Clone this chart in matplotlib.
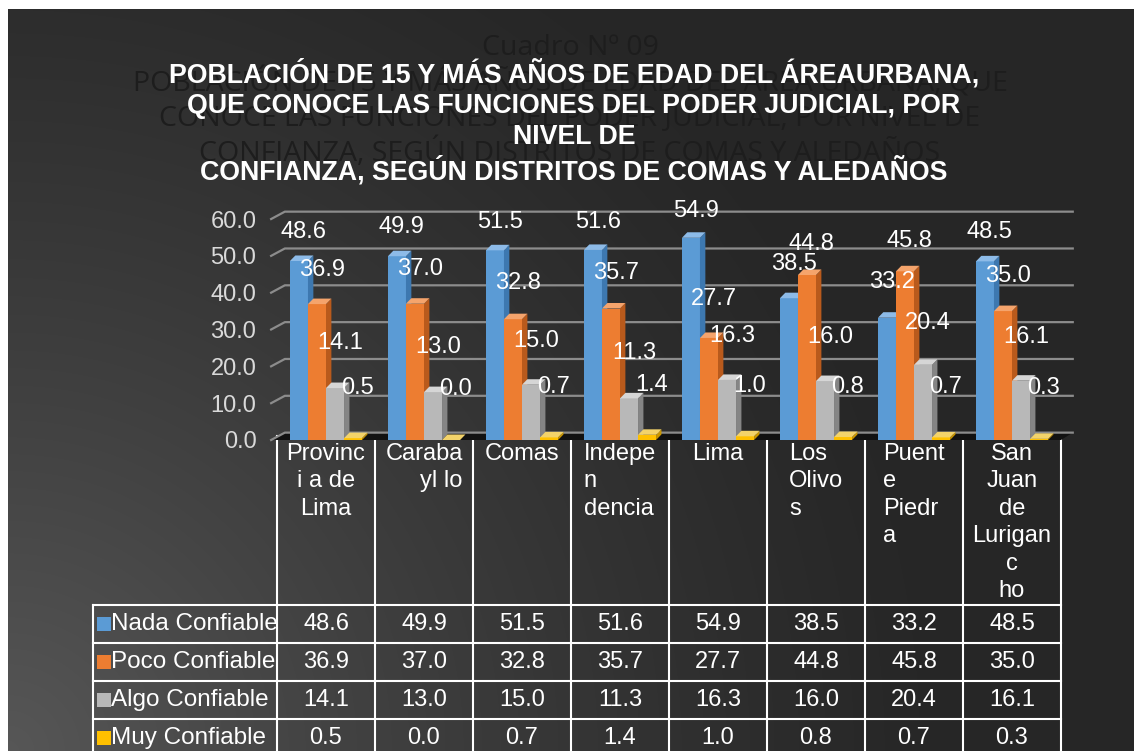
import numpy as np
import matplotlib

matplotlib.use("Agg")
import matplotlib.pyplot as plt  # noqa: E402
from matplotlib.patches import Polygon, Rectangle  # noqa: E402

plt.rcParams["font.family"] = ["Liberation Sans", "DejaVu Sans"]

# --- data (Cuadro Nº 09) ---
districts = ["Provinc\ni a de\nLima", "Caraba\nyl lo", "Comas", "Indepe\nn\ndencia",
             "Lima", "Los\nOlivo\ns", "Puent\ne\nPiedr\na", "San\nJuan\nde\nLurigan\nc\nho"]
series_names = ["Nada Confiable", "Poco Confiable", "Algo Confiable", "Muy Confiable"]
nada = [48.6, 49.9, 51.5, 51.6, 54.9, 38.5, 33.2, 48.5]
poco = [36.9, 37.0, 32.8, 35.7, 27.7, 44.8, 45.8, 35.0]
algo = [14.1, 13.0, 15.0, 11.3, 16.3, 16.0, 20.4, 16.1]
muy = [0.5, 0.0, 0.7, 1.4, 1.0, 0.8, 0.7, 0.3]
y_ticks = [0, 10, 20, 30, 40, 50, 60]

title = ("POBLACIÓN DE 15 Y MÁS AÑOS DE EDAD DEL ÁREAURBANA,\n"
         "QUE CONOCE LAS FUNCIONES DEL PODER JUDICIAL, POR\n"
         "NIVEL DE\n"
         "CONFIANZA, SEGÚN DISTRITOS DE COMAS Y ALEDAÑOS")
ghost = ["Cuadro Nº 09",
         "POBLACIÓN DE 15 Y MÁS AÑOS DE EDAD DEL ÁREA URBANA, QUE",
         "CONOCE LAS FUNCIONES DEL PODER JUDICIAL, POR NIVEL DE",
         "CONFIANZA, SEGÚN DISTRITOS DE COMAS Y ALEDAÑOS"]

series = [nada, poco, algo, muy]
front = ["#5B9BD5", "#ED7D31", "#B8B8B8", "#FFC000"]
side = ["#3D78B0", "#B95A1C", "#858585", "#C99500"]
top = ["#8DBBE8", "#F5A46C", "#D6D6D6", "#F3D36A"]
col_align = ["center", "right", "center", "left", "center", "left", "left", "center"]

W, H = 1134, 751
PXU = 3.683          # pixels per value unit on the front plane
BW = 0.184           # bar width (category units)
DDX, DDY = 0.055, 1.5   # bar depth offset
GDY = 2.0            # back wall offset of gridlines
FS = 17


def fx(px):
    return px / W


def fy(py):
    return 1 - py / H


fig = plt.figure(figsize=(W / 100, H / 100), dpi=100, facecolor="white")

# dark gradient background, lighter toward the bottom-left corner
bg = fig.add_axes([fx(8), 0, 1 - fx(8), fy(9)], zorder=0)
bg.axis("off")
hh, ww = H - 9, W - 8
yy, xx = np.mgrid[0:hh, 0:ww]
f = np.clip(1 - np.hypot(xx, (hh - yy)) / 950.0, 0, 1)
val = 0.15 + 0.19 * f ** 1.3
bg.imshow(np.dstack([val, val, val]), aspect="auto", interpolation="bilinear")

# ghost title of the underlying slide + real title
for i, line in enumerate(ghost):
    fig.text(fx(570), fy(48 + 35 * i), line, ha="center", va="center",
             fontsize=20.5, color="#1d1d1d", family=["Open Sans", "DejaVu Sans"])
fig.text(fx(574), fy(122), title, ha="center", va="center", fontsize=19.3,
         weight="bold", color="white", linespacing=1.24)

# --- table + category labels (pixel space) ---
tab = fig.add_axes([0, 0, 1, 1], zorder=1)
tab.set_xlim(0, W)
tab.set_ylim(H, 0)
tab.axis("off")
col0, colw, row0, rowh = 277, 98, 605, 38
for j in range(len(districts) + 1):
    x = col0 + colw * j
    tab.plot([x, x], [436, H], color="white", lw=1.5)
tab.plot([93, 93], [row0, H], color="white", lw=1.5)
for r in range(len(series)):
    y = row0 + rowh * r
    tab.plot([93, col0 + colw * len(districts)], [y, y], color="white", lw=1.5)
for i, name in enumerate(districts):
    tab.text(col0 + colw * (i + 0.5), 443, name, ha="center", va="top", fontsize=FS,
             color="white", multialignment=col_align[i], linespacing=1.32)
for k, (nm, vals) in enumerate(zip(series_names, series)):
    yc = row0 + rowh * (k + 0.5)
    tab.add_patch(Rectangle((97, yc - 7), 14, 14, color=front[k], lw=0))
    tab.text(111, yc, nm, ha="left", va="center", fontsize=17.5, color="white")
    for i, v in enumerate(vals):
        tab.text(col0 + colw * (i + 0.5), yc, f"{v:.1f}", ha="center", va="center",
                 fontsize=FS, color="white")

# --- pseudo 3-D clustered columns ---
ax = fig.add_axes([fx(262), fy(450), (1085 - 262) / W, (450 - 195) / H], zorder=2)
ax.patch.set_alpha(0)
ax.set_xlim((262 - 326) / colw, (1085 - 326) / colw)
ax.set_ylim(-10 / PXU, (440 - 195) / PXU)
for s in ax.spines.values():
    s.set_visible(False)
ax.set_xticks([])
ax.set_yticks(y_ticks)
ax.set_yticklabels([f"{v:.1f}" for v in y_ticks])
ax.tick_params(axis="y", length=0, pad=4, labelsize=FS, labelcolor="#d9d9d9")

n = len(districts)
x_left, x_right = -0.56, n - 0.5
ax.add_patch(Polygon([(x_left, 0), (x_right, 0), (x_right + 0.12, GDY), (x_left + 0.14, GDY)],
                     closed=True, color="#121212", lw=0, zorder=1))
for v in y_ticks:
    ax.plot([x_left, x_left + 0.14, x_right + 0.12], [v, v + GDY, v + GDY],
            color="#8c8c8c", lw=1.6, zorder=1.5, clip_on=False)

xc = np.arange(n)
for k, vals in enumerate(series):
    xs = xc + (k - 1.5) * BW
    z = 3 + k
    ax.bar(xs, vals, width=BW, color=front[k], lw=0, zorder=z)
    for x, v in zip(xs, vals):
        r, l = x + BW / 2, x - BW / 2
        ax.add_patch(Polygon([(r, 0), (r + DDX, DDY), (r + DDX, v + DDY), (r, v)],
                             closed=True, color=side[k], lw=0, zorder=z))
        ax.add_patch(Polygon([(l, v), (r, v), (r + DDX, v + DDY), (l + DDX, v + DDY)],
                             closed=True, color=top[k], lw=0, zorder=z))
for k, vals in enumerate(series):
    xs = xc + (k - 1.5) * BW
    for x, v in zip(xs, vals):
        # Excel's 3-D label placement sits above the column, compressed toward the floor
        ax.text(x + 0.05, 13.8 + 0.88 * v, f"{v:.1f}", ha="center", va="center",
                fontsize=FS, color="white", zorder=10)

fig.savefig("out.png", dpi=100, facecolor=fig.get_facecolor())
